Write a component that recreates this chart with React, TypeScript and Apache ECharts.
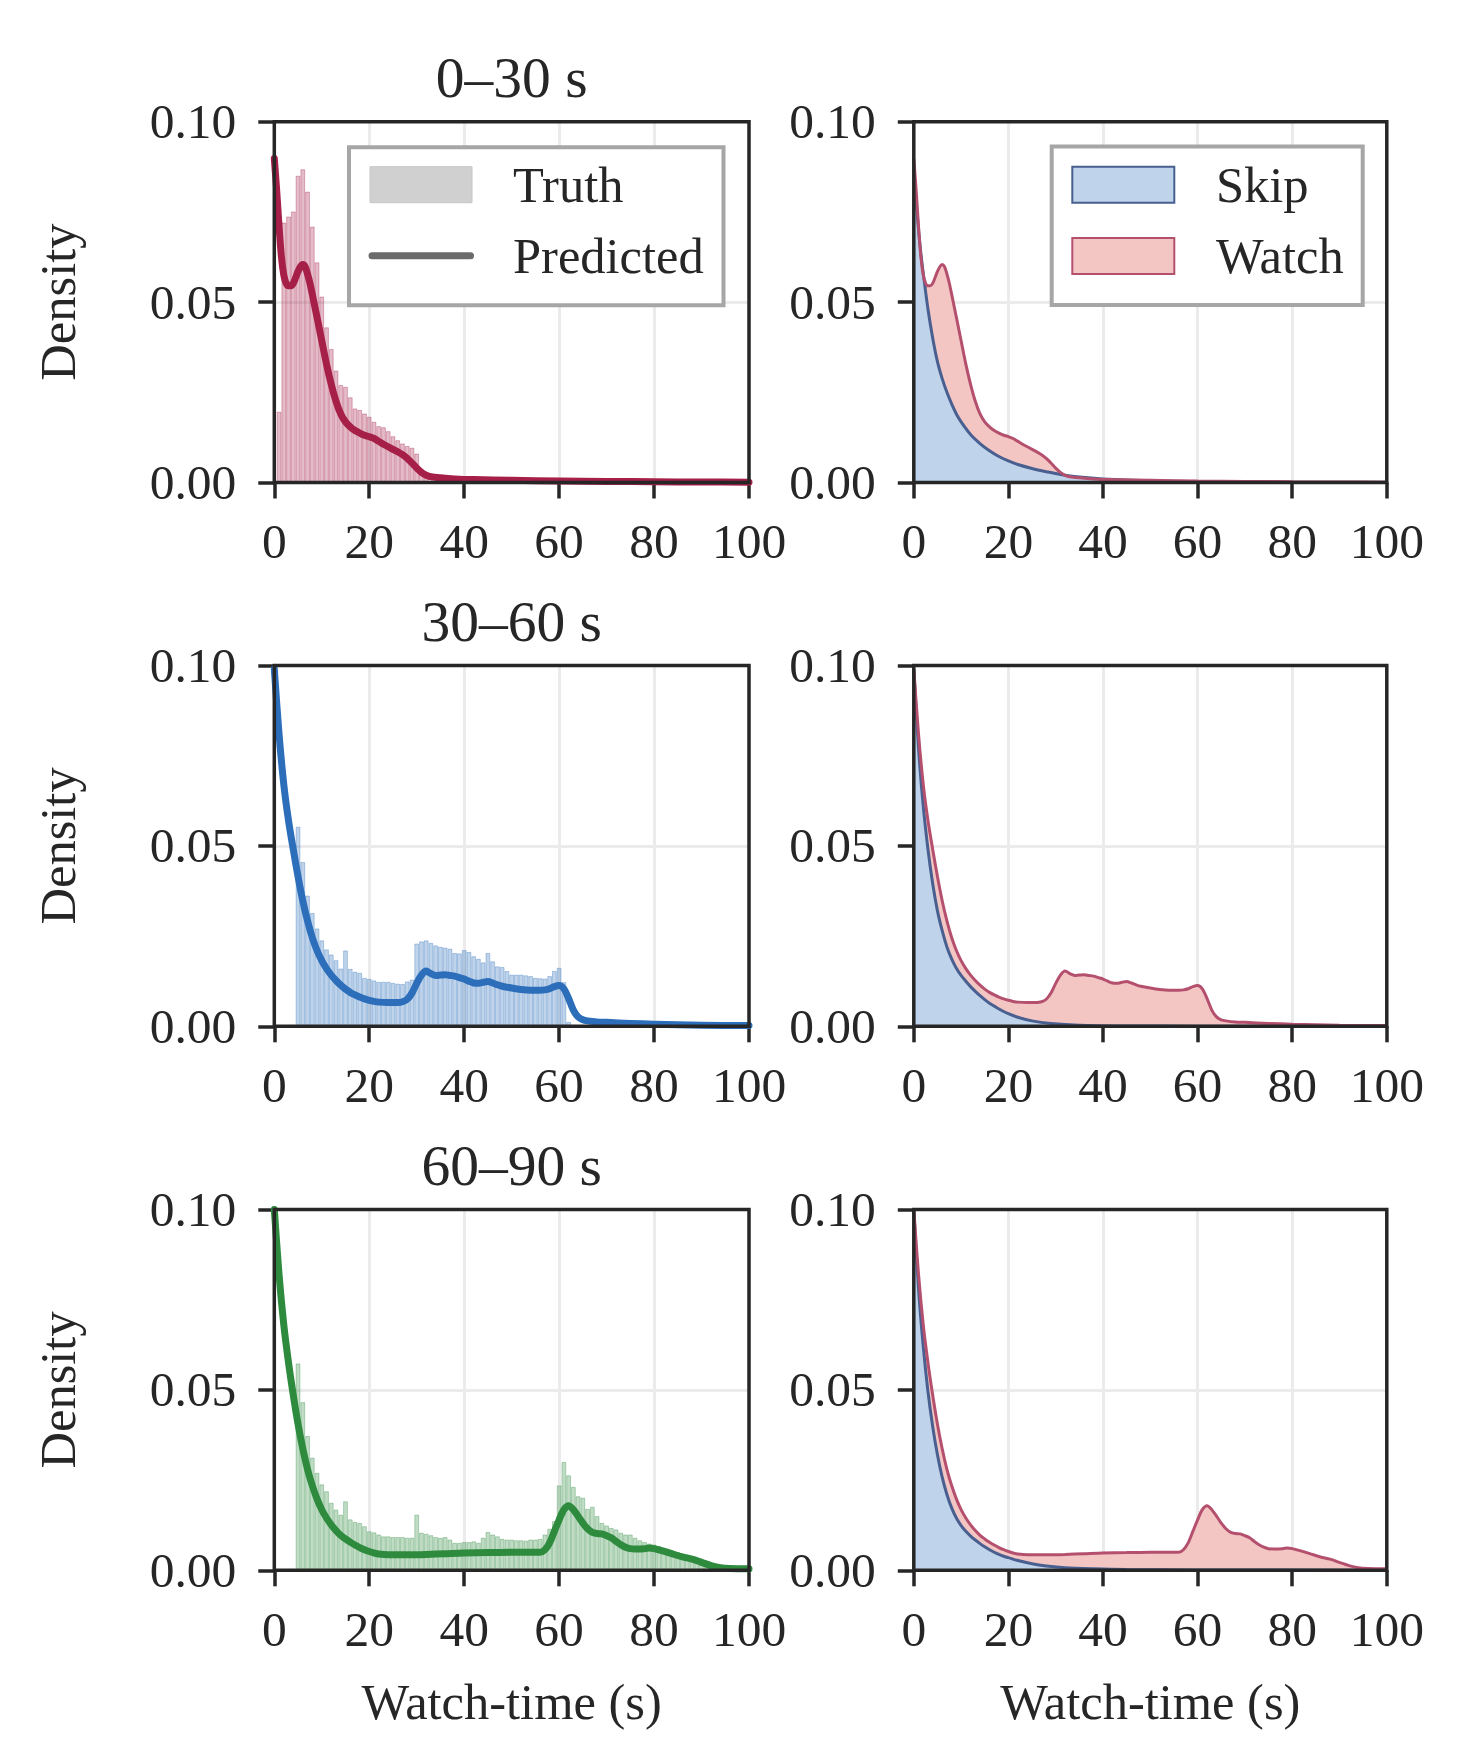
import React, { useEffect, useRef } from "react";
import * as echarts from "echarts";

// ---------- DATA ----------
const rowTitles = ["0–30 s", "30–60 s", "60–90 s"];
const xTickValues = [0, 20, 40, 60, 80, 100];
const yTickValues = [0, 0.05, 0.1];
const legendLeft = ["Truth", "Predicted"];
const legendRight = ["Skip", "Watch"];

// Ground-truth histograms (1 s bins, first bin centre given by *Start)
const truth0to30Start = 1;
const truth0to30 = [
  0.0196, 0.072, 0.0737, 0.0751, 0.085, 0.0868, 0.0806, 0.0709, 0.061, 0.0515,
  0.043, 0.037, 0.031, 0.027, 0.0265, 0.0236, 0.0205, 0.0201, 0.0191, 0.0182,
  0.0168, 0.0156, 0.0153, 0.0142, 0.0128, 0.0117, 0.0108, 0.0101, 0.0096, 0.008,
  0.0035, 0.0015, 0.0005,
];
const truth30to60Start = 5;
const truth30to60 = [
  0.0553, 0.0455, 0.0362, 0.0314, 0.0271, 0.0238, 0.0213, 0.0199, 0.0183, 0.016,
  0.021, 0.0159, 0.0151, 0.0148, 0.0134, 0.0131, 0.0127, 0.0123, 0.0123, 0.0123,
  0.012, 0.0118, 0.0117, 0.0124, 0.0129, 0.0229, 0.0235, 0.0238, 0.0231, 0.0224,
  0.022, 0.0218, 0.0215, 0.0203, 0.0202, 0.0211, 0.0206, 0.0194, 0.0187, 0.0177,
  0.0203, 0.018, 0.0166, 0.0164, 0.0153, 0.0143, 0.0143, 0.0143, 0.0141, 0.0139,
  0.0134, 0.0133, 0.0132, 0.0139, 0.0153, 0.0162, 0.0122, 0.0012,
];
const truth60to90Start = 5;
const truth60to90 = [
  0.0573, 0.0466, 0.0372, 0.0312, 0.027, 0.0238, 0.0219, 0.0187, 0.0168, 0.0154,
  0.0191, 0.0141, 0.0134, 0.0131, 0.0122, 0.0108, 0.0105, 0.0099, 0.0094, 0.0094,
  0.0092, 0.0092, 0.0092, 0.009, 0.009, 0.0154, 0.0104, 0.0101, 0.0097, 0.0092,
  0.009, 0.0092, 0.0085, 0.0076, 0.0076, 0.0078, 0.0078, 0.008, 0.0076, 0.009,
  0.0106, 0.0099, 0.0094, 0.0087, 0.0085, 0.0085, 0.0083, 0.0083, 0.0082, 0.0085,
  0.0085, 0.0087, 0.0099, 0.0115, 0.0136, 0.0235, 0.03, 0.0263, 0.0231, 0.0205,
  0.0201, 0.017, 0.0176, 0.015, 0.0131, 0.0124, 0.0117, 0.0113, 0.0104, 0.0099,
  0.0099, 0.009, 0.0083, 0.0078, 0.0074, 0.0071, 0.0067, 0.006, 0.0057, 0.0053,
  0.005, 0.0043, 0.0041, 0.0037, 0.0031, 0.0025, 0.0016, 0.001, 0.0006, 0.0004,
];

// Predicted densities (= Watch curves) [seconds, density]
const pred0to30 = [
  [0, 0.0898], [0.5, 0.081], [1, 0.071], [1.5, 0.0625], [2, 0.0575], [2.5, 0.0552],
  [3, 0.0545], [3.5, 0.0545], [4, 0.0552], [4.5, 0.0568], [5, 0.0585], [5.5, 0.0598],
  [6, 0.0604], [6.5, 0.0598], [7, 0.0578], [7.5, 0.0553], [8, 0.0522], [9, 0.0458],
  [10, 0.0393], [11, 0.0328], [12, 0.0272], [13, 0.0225], [14, 0.019], [15, 0.0168],
  [16, 0.0154], [17, 0.0144], [18, 0.0137], [19, 0.0131], [20, 0.0127], [21, 0.0122],
  [22, 0.0114], [23, 0.0106], [24, 0.0099], [25, 0.0092], [26, 0.0085], [27, 0.0077],
  [28, 0.0067], [29, 0.0054], [30, 0.004], [31, 0.0028], [32, 0.002], [33, 0.0016],
  [35, 0.0013], [38, 0.001], [42, 0.0008], [50, 0.0006], [60, 0.0004], [70, 0.0003],
  [80, 0.0002], [90, 0.00015], [100, 0.0001],
];
const pred30to60 = [
  [0, 0.099], [1, 0.081], [2, 0.067], [3, 0.057], [4, 0.049], [5, 0.0415],
  [6, 0.0348], [7, 0.0292], [8, 0.0246], [9, 0.021], [10, 0.0182], [11, 0.016],
  [12, 0.0142], [13, 0.0127], [14, 0.0114], [15, 0.0103], [16, 0.0094], [17, 0.0087],
  [18, 0.0081], [19, 0.0076], [20, 0.0072], [21, 0.0069], [22, 0.0067], [24, 0.0066],
  [26, 0.0066], [27, 0.0068], [28, 0.0075], [29, 0.0092], [30, 0.0119], [31, 0.0142],
  [32, 0.0153], [33, 0.0146], [34, 0.0141], [35, 0.0142], [36, 0.0143], [37, 0.0141],
  [38, 0.0139], [39, 0.0135], [40, 0.0131], [41, 0.0125], [42, 0.012], [43, 0.0119],
  [44, 0.0122], [45, 0.0124], [46, 0.012], [47, 0.0115], [48, 0.0111], [50, 0.0106],
  [52, 0.0102], [54, 0.01], [56, 0.01], [57, 0.0101], [58, 0.0104], [59, 0.011],
  [60, 0.0113], [61, 0.0104], [62, 0.0077], [63, 0.0045], [64, 0.0026], [65, 0.0018],
  [66, 0.0015], [68, 0.0012], [70, 0.0011], [75, 0.0008], [80, 0.0006], [90, 0.0003],
  [100, 0.0002],
];
const pred60to90 = [
  [0, 0.1], [1, 0.082], [2, 0.068], [3, 0.0575], [4, 0.0485], [5, 0.0405],
  [6, 0.0337], [7, 0.028], [8, 0.0235], [9, 0.0198], [10, 0.0168], [11, 0.0145],
  [12, 0.0126], [13, 0.011], [14, 0.0097], [15, 0.0087], [16, 0.0078], [17, 0.007],
  [18, 0.0063], [19, 0.0057], [20, 0.0052], [21, 0.0048], [22, 0.0045], [24, 0.0043],
  [28, 0.0043], [32, 0.0044], [36, 0.0046], [40, 0.0048], [45, 0.0049], [50, 0.005],
  [54, 0.005], [56, 0.005], [57, 0.0057], [58, 0.0076], [59, 0.0108], [60, 0.014],
  [61, 0.0168], [62, 0.0179], [63, 0.0168], [64, 0.015], [65, 0.0131], [66, 0.0115],
  [67, 0.0105], [68, 0.0102], [69, 0.0101], [70, 0.0096], [71, 0.009], [72, 0.008],
  [73, 0.0071], [74, 0.0064], [75, 0.006], [76, 0.0059], [78, 0.006], [79, 0.0062],
  [80, 0.006], [82, 0.0053], [84, 0.0045], [86, 0.0037], [88, 0.0031], [90, 0.0022],
  [92, 0.0013], [94, 0.0007], [96, 0.0005], [100, 0.0004],
];

// Skip densities [seconds, density]
const skip0to30 = [
  [0, 0.087], [0.5, 0.078], [1, 0.07], [1.5, 0.0635], [2, 0.058], [3, 0.048],
  [4, 0.04], [5, 0.0335], [6, 0.0288], [7, 0.025], [8, 0.0218], [9, 0.019],
  [10, 0.0168], [12, 0.0133], [14, 0.0108], [16, 0.0088], [18, 0.0072], [20, 0.006],
  [22, 0.005], [25, 0.0039], [28, 0.003], [31, 0.0022], [35, 0.0015], [40, 0.001],
  [50, 0.0005], [60, 0.0003], [80, 0.0001], [100, 0.00005],
];
const skip30to60 = [
  [0, 0.099], [1, 0.077], [2, 0.061], [3, 0.049], [4, 0.0395], [5, 0.032],
  [6, 0.0265], [7, 0.022], [8, 0.0187], [9, 0.0161], [10, 0.0141], [11, 0.0125],
  [12, 0.011], [13, 0.0097], [14, 0.0085], [15, 0.0074], [16, 0.0064], [17, 0.0056],
  [18, 0.0048], [19, 0.0041], [20, 0.0035], [22, 0.0025], [25, 0.0015], [29, 0.0008],
  [35, 0.0003], [45, 0.0001], [60, 0.00004], [100, 0],
];
const skip60to90 = [
  [0, 0.1], [1, 0.078], [2, 0.062], [3, 0.0495], [4, 0.0398], [5, 0.032],
  [6, 0.0258], [7, 0.021], [8, 0.0173], [9, 0.0145], [10, 0.0124], [11, 0.0108],
  [12, 0.0095], [13, 0.0084], [14, 0.0074], [15, 0.0065], [16, 0.0057], [17, 0.005],
  [18, 0.0044], [19, 0.0039], [20, 0.0035], [22, 0.0027], [25, 0.0018], [28, 0.0012],
  [32, 0.0007], [38, 0.0004], [45, 0.0002], [60, 0.0001], [100, 0],
];

// ---------- STYLE ----------
const FONT = '"Liberation Serif", "Times New Roman", serif';
const INK = "#262626";
const TICK_FS = 49.5;
const LABEL_FS = 50.5;
const TITLE_FS = 57.5;
const rowColors = ["#a51f48", "#2c6eba", "#2e8b3e"];
const rowBarFill = ["rgba(165,31,72,0.3)", "rgba(44,110,186,0.3)", "rgba(46,139,62,0.3)"];
const rowBarEdge = ["rgba(165,31,72,0.42)", "rgba(44,110,186,0.42)", "rgba(46,139,62,0.42)"];
const SKIP_FILL = "#bfd3ea";
const SKIP_LINE = "#485f90";
const WATCH_FILL = "#f3c6c3";
const WATCH_LINE = "#b4506e";

const COL_LEFT = [274.3, 913.8];
const COL_WIDTH = [474.7, 473];
const ROW_TOP = [121.7, 665.5, 1209.5];
const PLOT_H = 360.8;

const truthRows = [
  { start: truth0to30Start, values: truth0to30 },
  { start: truth30to60Start, values: truth30to60 },
  { start: truth60to90Start, values: truth60to90 },
];
const predRows = [pred0to30, pred30to60, pred60to90];
const skipRows = [skip0to30, skip30to60, skip60to90];

function buildOption() {
  const grid: any[] = [];
  const xAxis: any[] = [];
  const yAxis: any[] = [];
  const series: any[] = [];
  const graphic: any[] = [];

  const txt = (text: string, x: number, y: number, size: number, extra: any = {}) => ({
    type: "text",
    x,
    y,
    z: 60,
    silent: true,
    ...extra,
    style: {
      text,
      fontSize: size,
      fontFamily: FONT,
      fill: INK,
      textAlign: extra.align || "left",
      align: extra.align || "left",
      textVerticalAlign: "middle",
      verticalAlign: "middle",
    },
  });

  for (let r = 0; r < 3; r++) {
    for (let c = 0; c < 2; c++) {
      const gi = r * 2 + c;
      const left = COL_LEFT[c];
      const top = ROW_TOP[r];
      const w = COL_WIDTH[c];
      grid.push({ left, top, width: w, height: PLOT_H, containLabel: false });
      xAxis.push({
        gridIndex: gi,
        type: "value",
        min: 0,
        max: 100,
        interval: 20,
        axisLine: { show: false },
        axisTick: { show: true, inside: false, length: 16, lineStyle: { color: INK, width: 3.5 } },
        axisLabel: {
          margin: 34,
          fontSize: TICK_FS,
          fontFamily: FONT,
          color: INK,
          formatter: (v: number) => (xTickValues.includes(v) ? String(v) : ""),
        },
        splitLine: {
          show: true,
          showMinLine: false,
          showMaxLine: false,
          lineStyle: { color: "#ebebeb", width: 3 },
        },
      });
      yAxis.push({
        gridIndex: gi,
        type: "value",
        min: 0,
        max: 0.1,
        interval: 0.05,
        axisLine: { show: false },
        axisTick: { show: true, inside: false, length: 16, lineStyle: { color: INK, width: 3.5 } },
        axisLabel: {
          margin: 38,
          fontSize: TICK_FS,
          fontFamily: FONT,
          color: INK,
          formatter: (v: number) => {
            const hit = yTickValues.find((t) => Math.abs(t - v) < 1e-9);
            return hit === undefined ? "" : hit.toFixed(2);
          },
        },
        splitLine: {
          show: true,
          showMinLine: false,
          showMaxLine: false,
          lineStyle: { color: "#ebebeb", width: 3 },
        },
      });

      // frame (spines)
      graphic.push({
        type: "rect",
        z: 40,
        silent: true,
        shape: { x: left, y: top, width: w, height: PLOT_H },
        style: { fill: "rgba(0,0,0,0)", stroke: INK, lineWidth: 3.5 },
      });

      if (c === 0) {
        const t = truthRows[r];
        series.push({
          type: "bar",
          name: legendLeft[0],
          xAxisIndex: gi,
          yAxisIndex: gi,
          barWidth: 4.6,
          data: t.values.map((v, i) => [t.start + i, v]),
          itemStyle: { color: rowBarFill[r], borderColor: rowBarEdge[r], borderWidth: 0.8 },
          z: 2,
        });
        series.push({
          type: "line",
          name: legendLeft[1],
          xAxisIndex: gi,
          yAxisIndex: gi,
          data: predRows[r],
          smooth: 0.3,
          symbol: "none",
          lineStyle: { color: rowColors[r], width: 7, cap: "round", join: "round" },
          z: 3,
        });
      } else {
        series.push({
          type: "line",
          name: legendRight[1] + " area",
          xAxisIndex: gi,
          yAxisIndex: gi,
          data: predRows[r],
          smooth: 0.3,
          symbol: "none",
          lineStyle: { width: 0, color: WATCH_LINE },
          areaStyle: { color: WATCH_FILL, opacity: 1 },
          z: 2,
        });
        series.push({
          type: "line",
          name: legendRight[0],
          xAxisIndex: gi,
          yAxisIndex: gi,
          data: skipRows[r],
          smooth: 0.3,
          symbol: "none",
          lineStyle: { width: 3, color: SKIP_LINE },
          areaStyle: { color: SKIP_FILL, opacity: 1 },
          z: 3,
        });
        series.push({
          type: "line",
          name: legendRight[1],
          xAxisIndex: gi,
          yAxisIndex: gi,
          data: predRows[r],
          smooth: 0.3,
          symbol: "none",
          lineStyle: { width: 3, color: WATCH_LINE },
          z: 4,
        });
      }
    }
    // row title
    graphic.push(txt(rowTitles[r], COL_LEFT[0] + COL_WIDTH[0] / 2, ROW_TOP[r] - 44, TITLE_FS, { align: "center" }));
    // y label
    graphic.push(
      txt("Density", 57.5, ROW_TOP[r] + PLOT_H / 2, LABEL_FS, { align: "center", rotation: Math.PI / 2 })
    );
  }

  // x labels
  for (let c = 0; c < 2; c++) {
    graphic.push(txt("Watch-time (s)", COL_LEFT[c] + COL_WIDTH[c] / 2, 1702, LABEL_FS, { align: "center" }));
  }

  // left legend
  graphic.push({
    type: "rect",
    z: 50,
    silent: true,
    shape: { x: 349, y: 147.3, width: 374.5, height: 158 },
    style: { fill: "#ffffff", stroke: "#a6a6a6", lineWidth: 4 },
  });
  graphic.push({
    type: "rect",
    z: 55,
    silent: true,
    shape: { x: 370, y: 166.7, width: 102, height: 36 },
    style: { fill: "#d0d0d0", stroke: "#c6c6c6", lineWidth: 1 },
  });
  graphic.push({
    type: "line",
    z: 55,
    silent: true,
    shape: { x1: 372, y1: 255.7, x2: 470.5, y2: 255.7 },
    style: { stroke: "#6b6b6b", lineWidth: 7, lineCap: "round" },
  });
  graphic.push(txt(legendLeft[0], 513, 185, LABEL_FS));
  graphic.push(txt(legendLeft[1], 513, 256, LABEL_FS));

  // right legend
  graphic.push({
    type: "rect",
    z: 50,
    silent: true,
    shape: { x: 1051.7, y: 146.5, width: 311, height: 158.5 },
    style: { fill: "#ffffff", stroke: "#a6a6a6", lineWidth: 4 },
  });
  graphic.push({
    type: "rect",
    z: 55,
    silent: true,
    shape: { x: 1072.3, y: 166.7, width: 102, height: 36 },
    style: { fill: SKIP_FILL, stroke: SKIP_LINE, lineWidth: 2 },
  });
  graphic.push({
    type: "rect",
    z: 55,
    silent: true,
    shape: { x: 1072.3, y: 238, width: 102, height: 36 },
    style: { fill: WATCH_FILL, stroke: WATCH_LINE, lineWidth: 2 },
  });
  graphic.push(txt(legendRight[0], 1216, 185, LABEL_FS));
  graphic.push(txt(legendRight[1], 1216, 256, LABEL_FS));

  return {
    animation: false,
    backgroundColor: "#ffffff",
    textStyle: { fontFamily: FONT },
    grid,
    xAxis,
    yAxis,
    series,
    graphic,
  };
}

export default function App() {
  const ref = useRef<HTMLDivElement>(null);
  useEffect(() => {
    if (!ref.current) return;
    const chart = echarts.init(ref.current, undefined, { renderer: "svg" });
    chart.setOption(buildOption());
    return () => chart.dispose();
  }, []);
  return (
    <div
      ref={ref}
      style={{ position: "absolute", left: 0, top: 0, width: 1476, height: 1764, background: "#fff" }}
    />
  );
}
